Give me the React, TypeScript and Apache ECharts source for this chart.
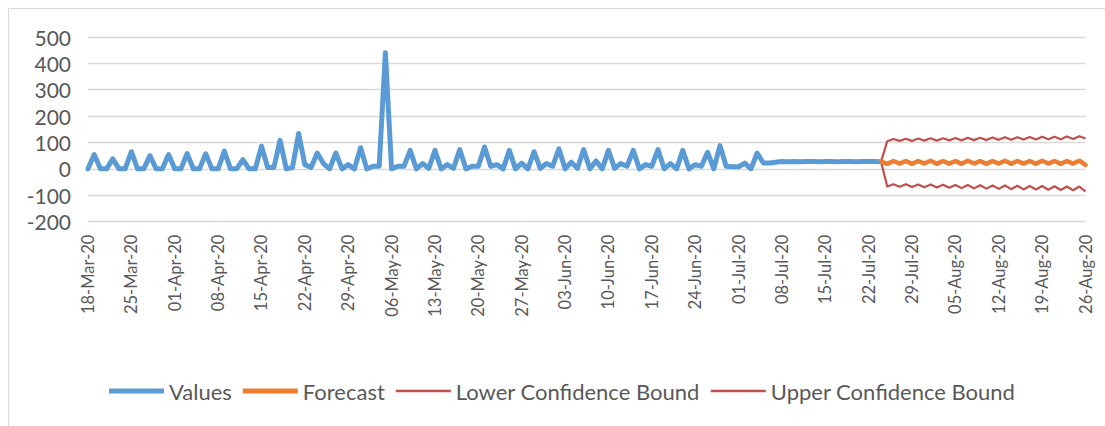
import React, { useEffect, useRef } from "react";
import * as echarts from "echarts";

const MONTHS = ["Jan", "Feb", "Mar", "Apr", "May", "Jun", "Jul", "Aug", "Sep", "Oct", "Nov", "Dec"];
const DAY_COUNT = 162;
const categories: string[] = [];
{
  const d = new Date(2020, 2, 18);
  for (let i = 0; i < DAY_COUNT; i++) {
    const dd = String(d.getDate()).padStart(2, "0");
    categories.push(`${dd}-${MONTHS[d.getMonth()]}-20`);
    d.setDate(d.getDate() + 1);
  }
}

// actual values, 18-Mar-20 .. 24-Jul-20
const values: number[] = [
  0, 54, 0, 0, 38, 0, 0, 65, 0, 0,
  50, 0, 0, 54, 0, 0, 58, 0, 0, 57,
  0, 0, 67, 0, 0, 35, 0, 0, 86, 5,
  5, 108, 0, 5, 134, 16, 5, 60, 20, 0,
  60, 0, 16, 0, 80, 0, 10, 10, 440, 0,
  10, 10, 70, 0, 20, 2, 70, 0, 16, 2,
  73, 0, 10, 10, 83, 10, 16, 0, 70, 0,
  22, 0, 65, 2, 20, 10, 76, 0, 25, 2,
  73, 0, 30, 0, 70, 2, 20, 10, 70, 0,
  16, 10, 73, 0, 20, 0, 70, 0, 16, 10,
  63, 0, 88, 10, 8, 8, 22, 0, 60, 22,
  22, 25, 28, 27, 28, 27, 28, 28, 27, 28,
  28, 27, 28, 28, 27, 28, 28, 28, 27,
];

// forecast section, 24-Jul-20 .. 26-Aug-20
const forecast: number[] = [
  27, 19, 30, 20, 30, 19, 30, 20, 31, 19, 30, 20, 30, 19, 31, 20, 30,
  19, 30, 20, 31, 19, 30, 20, 30, 19, 31, 20, 30, 19, 30, 20, 31, 15,
];
const lowerBound: number[] = [
  27, -67, -58, -68, -58, -69, -59, -70, -59, -71, -60, -72, -61, -73, -61, -74, -62,
  -75, -63, -76, -63, -77, -64, -78, -65, -78, -65, -79, -66, -80, -67, -81, -67, -85,
];
const upperBound: number[] = [
  27, 105, 113, 106, 114, 106, 115, 107, 116, 107, 116, 108, 117, 108, 118, 109, 118,
  109, 119, 110, 120, 110, 120, 111, 121, 111, 122, 112, 122, 112, 123, 113, 124, 115,
];

const yMin = -200;
const yMax = 500;
const yStep = 100;

const FONT = "Lato, 'Noto Sans', sans-serif";

// legend line icons (invisible moveTo points fix the icon's box at 55x22)
const THICK_ICON = "path://M0,0M55,22M0,8.5L55,8.5L55,13.5L0,13.5Z";
const THIN_ICON = "path://M0,0M55,22M0,9.8L55,9.8L55,12.2L0,12.2Z";

function padActual(arr: number[]): (number | null)[] {
  const out: (number | null)[] = [];
  for (let i = 0; i < DAY_COUNT; i++) out.push(i < arr.length ? arr[i] : null);
  return out;
}
function padForecast(arr: number[]): (number | null)[] {
  const start = DAY_COUNT - arr.length;
  const out: (number | null)[] = [];
  for (let i = 0; i < DAY_COUNT; i++) out.push(i >= start ? arr[i - start] : null);
  return out;
}

export default function App() {
  const ref = useRef<HTMLDivElement>(null);
  useEffect(() => {
    if (!ref.current) return;
    const chart = echarts.init(ref.current, null, { renderer: "svg" });
    const lineCommon = { type: "line", symbol: "none", showSymbol: false, connectNulls: false };
    chart.setOption({
      animation: false,
      backgroundColor: "#ffffff",
      textStyle: { fontFamily: FONT },
      graphic: [
        {
          type: "rect",
          shape: { x: 8.5, y: 8.5, width: 1110, height: 430 },
          style: { fill: "none", stroke: "#D9D9D9", lineWidth: 1 },
          silent: true,
        },
      ],
      grid: { left: 88, right: 19.5, top: 37, height: 184.6 },
      legend: {
        left: 104,
        top: 375,
        itemWidth: 55,
        itemHeight: 22,
        itemGap: 11,
        textStyle: { fontFamily: FONT, fontSize: 22, color: "#595959" },
        data: [
          { name: "Values", icon: THICK_ICON, itemStyle: { color: "#5B9BD5" } },
          { name: "Forecast", icon: THICK_ICON, itemStyle: { color: "#ED7D31" } },
          { name: "Lower Confidence Bound", icon: THIN_ICON, itemStyle: { color: "#C0504D" } },
          { name: "Upper Confidence Bound", icon: THIN_ICON, itemStyle: { color: "#C0504D" } },
        ],
      },
      xAxis: {
        type: "category",
        data: categories,
        boundaryGap: false,
        axisLine: { show: false },
        axisTick: { show: false },
        splitLine: { show: false },
        axisLabel: {
          interval: 6,
          rotate: 90,
          margin: 13,
          fontFamily: FONT,
          fontSize: 16.5,
          color: "#595959",
        },
      },
      yAxis: {
        type: "value",
        min: yMin,
        max: yMax,
        interval: yStep,
        axisLine: { show: false },
        axisTick: { show: false },
        axisLabel: { fontFamily: FONT, fontSize: 21, color: "#595959", margin: 17 },
        splitLine: { lineStyle: { color: "#D9D9D9", width: 1.3 } },
      },
      series: [
        {
          ...lineCommon,
          name: "Values",
          data: padActual(values),
          lineStyle: { color: "#5B9BD5", width: 5, cap: "round", join: "round" },
          itemStyle: { color: "#5B9BD5" },
          z: 4,
        },
        {
          ...lineCommon,
          name: "Forecast",
          data: padForecast(forecast),
          lineStyle: { color: "#ED7D31", width: 4.5, cap: "round", join: "round" },
          itemStyle: { color: "#ED7D31" },
          z: 5,
        },
        {
          ...lineCommon,
          name: "Lower Confidence Bound",
          data: padForecast(lowerBound),
          lineStyle: { color: "#C0504D", width: 2.2, join: "round" },
          itemStyle: { color: "#C0504D" },
          z: 3,
        },
        {
          ...lineCommon,
          name: "Upper Confidence Bound",
          data: padForecast(upperBound),
          lineStyle: { color: "#C0504D", width: 2.2, join: "round" },
          itemStyle: { color: "#C0504D" },
          z: 3,
        },
      ],
    });
    return () => chart.dispose();
  }, []);
  return (
    <div
      ref={ref}
      style={{ position: "fixed", left: 0, top: 0, width: 1105, height: 426 }}
    />
  );
}
